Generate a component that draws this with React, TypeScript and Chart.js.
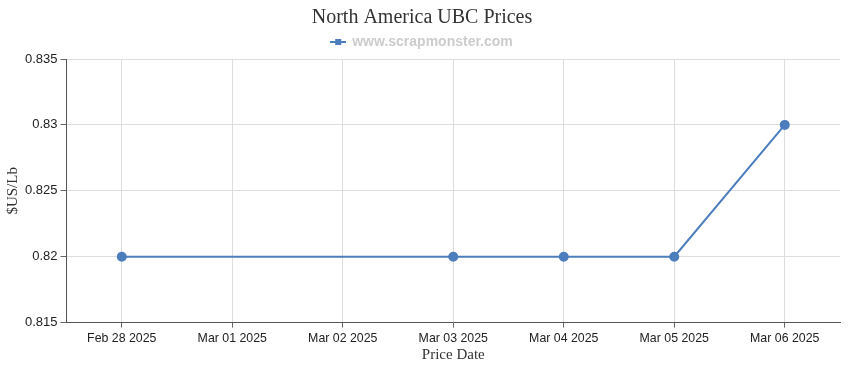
import React, { useEffect, useRef } from "react";
import { Chart, registerables } from "chart.js";

Chart.register(...registerables);

const categories = ["Feb 28 2025", "Mar 01 2025", "Mar 02 2025", "Mar 03 2025", "Mar 04 2025", "Mar 05 2025", "Mar 06 2025"];
const prices: (number | null)[] = [0.82, null, null, 0.82, 0.82, 0.82, 0.83];
const yTicks = [0.815, 0.82, 0.825, 0.83, 0.835];
const seriesName = "www.scrapmonster.com";
const chartTitle = "North America UBC Prices";

const LINE = "#4c7dbd";
const XFONT = "13px 'Liberation Sans', Arial, sans-serif";
const XSQUEEZE = 0.95;

function legendIcon(): HTMLCanvasElement {
  const c = document.createElement("canvas");
  c.width = 16;
  c.height = 8;
  const ctx = c.getContext("2d")!;
  ctx.fillStyle = LINE;
  ctx.fillRect(0, 3, 16, 2);
  ctx.fillRect(5, 1, 6, 6);
  return c;
}

const narrowXLabels = {
  id: "narrowXLabels",
  afterDraw(chart: any) {
    const xs = chart.scales.x;
    const ctx = chart.ctx;
    ctx.save();
    ctx.font = XFONT;
    ctx.fillStyle = "#222222";
    ctx.textAlign = "center";
    ctx.textBaseline = "middle";
    const y = xs.top + 16;
    categories.forEach((lab, i) => {
      const x = xs.getPixelForValue(i);
      ctx.save();
      ctx.translate(x, y);
      ctx.scale(XSQUEEZE, 1);
      ctx.fillText(lab, 0, 0);
      ctx.restore();
    });
    ctx.restore();
  },
};

export default function App() {
  const ref = useRef<HTMLCanvasElement>(null);
  useEffect(() => {
    document.body.style.margin = "0";
    const icon = legendIcon();
    const chart = new Chart(ref.current!, {
      type: "line",
      data: {
        labels: categories,
        datasets: [
          {
            label: seriesName,
            data: prices,
            borderColor: LINE,
            backgroundColor: LINE,
            borderWidth: 2,
            pointRadius: 4,
            pointHoverRadius: 4,
            spanGaps: true,
            tension: 0,
          },
        ],
      },
      plugins: [narrowXLabels],
      options: {
        responsive: false,
        animation: false,
        layout: { padding: { left: 4, right: 10, top: 0, bottom: 6 } },
        plugins: {
          title: {
            display: true,
            text: chartTitle,
            color: "#333333",
            font: { family: "'Liberation Serif', 'Times New Roman', serif", size: 20, weight: "normal" },
            padding: { top: 6, bottom: 0 },
          },
          legend: {
            display: true,
            labels: {
              usePointStyle: true,
              color: "#cccccc",
              font: { family: "'Liberation Sans', Arial, sans-serif", size: 14, weight: "bold" },
              padding: 5,
              generateLabels: () => [
                {
                  text: seriesName,
                  fillStyle: LINE,
                  strokeStyle: LINE,
                  pointStyle: icon,
                  datasetIndex: 0,
                  hidden: false,
                  fontColor: "#cccccc",
                },
              ],
            },
          },
          tooltip: { enabled: false },
        },
        scales: {
          x: {
            offset: true,
            grid: { offset: false, color: "#dddddd", tickLength: 5, tickColor: "#666666" },
            border: { color: "#555555", width: 1 },
            ticks: {
              color: "rgba(0,0,0,0)",
              font: { family: "'Liberation Sans', Arial, sans-serif", size: 12 },
              maxRotation: 0,
              autoSkip: false,
              padding: 2,
            },
            title: {
              display: true,
              text: "Price Date",
              color: "#333333",
              font: { family: "'Liberation Serif', 'Times New Roman', serif", size: 15 },
              padding: { top: 0, bottom: 0 },
            },
          },
          y: {
            min: 0.815,
            max: 0.835,
            afterBuildTicks: (axis: any) => {
              axis.ticks = yTicks.map((v) => ({ value: v }));
            },
            grid: { color: "#dddddd", tickLength: 6, tickColor: "#666666" },
            border: { color: "#555555", width: 1 },
            ticks: {
              color: "#222222",
              font: { family: "'Liberation Sans', Arial, sans-serif", size: 13 },
              padding: 3,
              callback: (v: any) => String(+Number(v).toFixed(3)),
            },
            title: {
              display: true,
              text: "$US/Lb",
              color: "#333333",
              font: { family: "'Liberation Serif', 'Times New Roman', serif", size: 15 },
              padding: { top: 0, bottom: 0 },
            },
          },
        },
      },
    });
    return () => chart.destroy();
  }, []);
  return <canvas ref={ref} width={850} height={370} style={{ display: "block" }} />;
}
